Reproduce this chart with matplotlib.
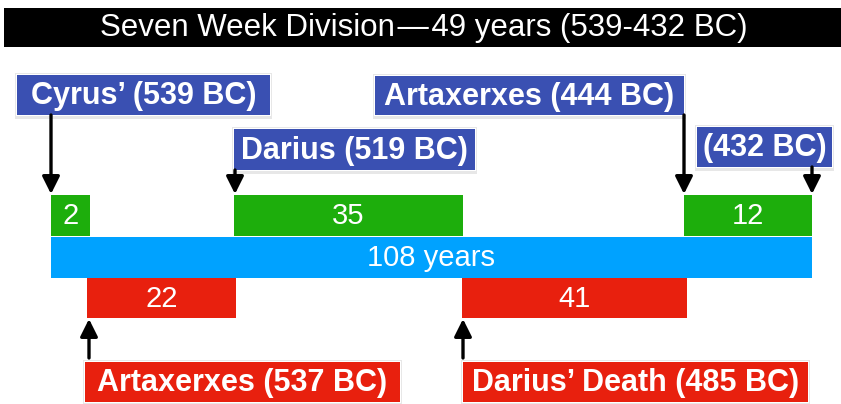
import matplotlib
matplotlib.use("Agg")
import matplotlib.pyplot as plt
from matplotlib.patches import Rectangle

# ---- data (schematic timeline, positions in diagram units) ----
title = "Seven Week Division\u200a\u2014\u200a49 years (539-432 BC)"

green_labels = ["2", "35", "12"]
green_start = [51, 234, 684]
green_end = [90, 463, 812]

total_label = "108 years"
total_start = [51]
total_end = [812]

red_labels = ["22", "41"]
red_start = [87, 462]
red_end = [236, 687]

top_events = ["Cyrus\u2019 (539 BC)", "Darius (519 BC)", "Artaxerxes (444 BC)", "(432 BC)"]
top_event_x = [51, 235, 684, 812]
bottom_events = ["Artaxerxes (537 BC)", "Darius\u2019 Death (485 BC)"]
bottom_event_x = [89, 463]

# ---- styles / layout ----
FONT = "Liberation Sans"
C_GREEN = "#1DAE0C"
C_BLUE = "#00A2FF"
C_RED = "#E8200E"
C_LABEL = "#3A50B2"

W, H = 841, 404
fig = plt.figure(figsize=(W / 100, H / 100), dpi=100)
ax = fig.add_axes([0, 0, 1, 1])
ax.set_xlim(0, W)
ax.set_ylim(H, 0)
ax.axis("off")

# title bar
ax.add_patch(Rectangle((4, 8), W - 4, 39, facecolor="black", edgecolor="none"))
ax.text(424, 28, title, color="white", fontsize=22.5, family=FONT,
        ha="center", va="center")

# bars
row_green, row_blue, row_red = 215, 257, 298
bh = 41
num_fs = 21
g_w = [e - s for s, e in zip(green_start, green_end)]
ax.barh([row_green] * len(g_w), g_w, left=green_start, height=bh, color=C_GREEN)
for lab, s, w in zip(green_labels, green_start, g_w):
    ax.text(s + w / 2, row_green + 1, lab, color="white", fontsize=num_fs,
            family=FONT, ha="center", va="center")

t_w = [e - s for s, e in zip(total_start, total_end)]
ax.barh([row_blue], t_w, left=total_start, height=bh, color=C_BLUE)
ax.text(431, row_blue + 1, total_label, color="white",
        fontsize=num_fs, family=FONT, ha="center", va="center")

r_w = [e - s for s, e in zip(red_start, red_end)]
ax.barh([row_red] * len(r_w), r_w, left=red_start, height=bh - 1, color=C_RED)
for lab, s, w in zip(red_labels, red_start, r_w):
    ax.text(s + w / 2, row_red + 1, lab, color="white", fontsize=num_fs,
            family=FONT, ha="center", va="center")


def label_box(x0, x1, y0, y1, text, color):
    # soft shadow
    ax.add_patch(Rectangle((x0 - 2, y0 - 2), x1 - x0 + 4, y1 - y0 + 6,
                           facecolor="#d8d8d8", edgecolor="none", alpha=0.6, zorder=3))
    ax.add_patch(Rectangle((x0 - 1, y0 - 1), x1 - x0 + 2, y1 - y0 + 2,
                           facecolor="white", edgecolor="none", zorder=3))
    ax.add_patch(Rectangle((x0, y0), x1 - x0, y1 - y0, facecolor=color,
                           edgecolor="none", zorder=4))
    ax.text((x0 + x1) / 2, (y0 + y1) / 2 + 1, text, color="white", fontsize=22,
            family=FONT, weight="bold", ha="center", va="center", zorder=5)


def arrow(x, y_from, y_to):
    ax.annotate("", xy=(x, y_to), xytext=(x, y_from),
                arrowprops=dict(arrowstyle="-|>,head_length=0.7,head_width=0.35",
                                lw=2.4, color="black", shrinkA=0, shrinkB=0,
                                mutation_scale=15), zorder=6)


top_boxes = [(17, 270, 75, 115), (234, 475, 129, 170), (375, 684, 76, 115), (697, 832, 127, 167)]
for (x0, x1, y0, y1), txt, ex in zip(top_boxes, top_events, top_event_x):
    label_box(x0, x1, y0, y1, txt, C_LABEL)
    arrow(ex, y1, 194)

bottom_boxes = [(85, 400, 362, 402), (463, 808, 362, 402)]
for (x0, x1, y0, y1), txt, ex in zip(bottom_boxes, bottom_events, bottom_event_x):
    label_box(x0, x1, y0, y1, txt, C_RED)
    arrow(ex, 358, 319)

fig.savefig("out.png", dpi=100)
